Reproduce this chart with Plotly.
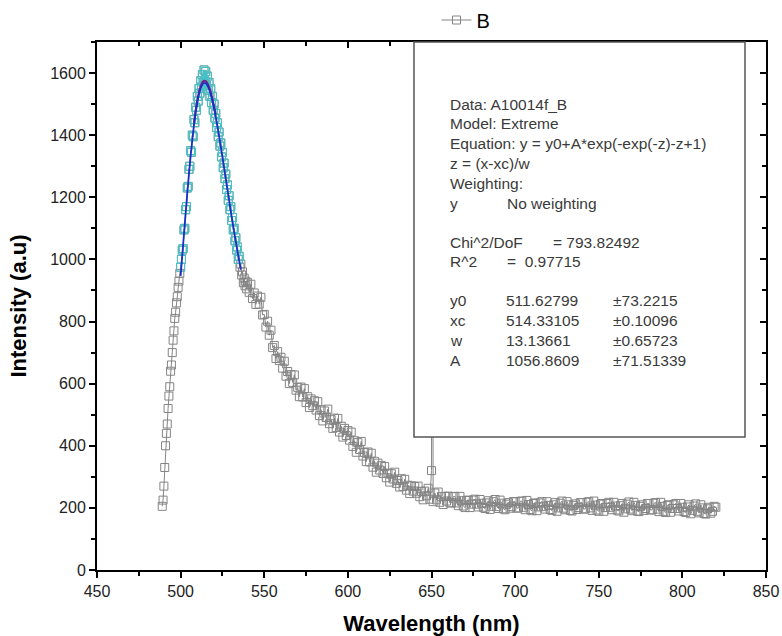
import numpy as np
import plotly.graph_objects as go

# ---------------- data ----------------
wl_rise = np.arange(489.0, 500.0, 0.5)
int_rise = [205, 225, 270, 330, 400, 440, 470, 520, 560, 590, 640, 660, 700, 740,
            770, 810, 830, 860, 880, 910, 930, 955]

wl_peak = np.arange(500.0, 535.5, 0.5)
int_peak = [975, 1000, 1030, 1035, 1095, 1100, 1160, 1170, 1230, 1235, 1290, 1300,
            1350, 1345, 1400, 1395, 1450, 1440, 1490, 1480, 1525, 1510, 1550, 1535,
            1575, 1555, 1595, 1570, 1610, 1575, 1605, 1560, 1590, 1545, 1570, 1525,
            1550, 1505, 1525, 1480, 1500, 1455, 1470, 1425, 1440, 1395, 1410, 1365,
            1375, 1330, 1345, 1295, 1310, 1260, 1275, 1225, 1240, 1190, 1205, 1160,
            1170, 1125, 1135, 1095, 1100, 1060, 1070, 1030, 1040, 1000, 1010]

wl_shoulder = np.arange(535.5, 540.0, 0.5)
int_shoulder = [975, 985, 950, 960, 925, 940, 915, 930, 905]

wl_decay = np.arange(540, 660, 1)
int_decay = [925, 894, 920, 874, 892, 855, 882, 856, 878, 821,
             823, 782, 801, 756, 772, 716, 723, 681, 703, 674,
             685, 650, 672, 624, 639, 600, 629, 604, 628, 579,
             588, 558, 589, 557, 584, 539, 558, 523, 551, 529,
             545, 515, 542, 497, 516, 480, 512, 491, 518, 471,
             484, 456, 489, 459, 488, 444, 463, 428, 456, 433,
             449, 418, 444, 398, 416, 379, 410, 388, 414, 367,
             378, 349, 380, 348, 376, 331, 350, 315, 344, 322,
             336, 311, 333, 297, 312, 283, 310, 293, 315, 279,
             288, 267, 294, 269, 292, 257, 273, 246, 271, 254,
             269, 247, 270, 236, 253, 226, 254, 239, 263, 228,
             320, 220, 248, 226, 251, 218, 236, 211, 237, 222]

wl_tail_even = np.arange(660, 822, 2)
int_tail_even = [238, 216, 237, 207, 223, 201, 225, 212, 228, 203,
                 215, 198, 223, 205, 227, 198, 215, 194, 217, 204,
                 220, 200, 222, 194, 211, 191, 216, 203, 220, 196,
                 208, 192, 217, 200, 222, 194, 210, 190, 213, 201,
                 217, 197, 220, 192, 209, 189, 214, 201, 218, 194,
                 206, 190, 214, 197, 219, 191, 208, 188, 210, 198,
                 214, 194, 217, 188, 205, 185, 210, 198, 214, 190,
                 202, 185, 210, 192, 213, 184, 200, 180, 202, 189, 202]

wl_tail_odd = np.arange(661, 821, 2)
int_tail_odd = [216, 236, 216, 237, 206, 224, 201, 225, 212, 227,
                202, 216, 195, 220, 204, 225, 197, 212, 199, 220,
                199, 221, 202, 224, 195, 214, 191, 216, 204, 220,
                195, 210, 189, 215, 199, 220, 192, 208, 195, 217,
                196, 218, 200, 222, 193, 212, 189, 214, 202, 218,
                193, 207, 186, 212, 196, 218, 190, 205, 192, 214,
                193, 215, 196, 218, 189, 208, 186, 210, 198, 214,
                188, 203, 181, 206, 189, 210, 182, 197, 183, 205]

spike_wl = [650.4]
spike_int = [1450]

fit_wl = np.arange(500, 537, 1)
fit_int = [947, 1014, 1081, 1148, 1214, 1276, 1334, 1386, 1433, 1473, 1506, 1532,
           1551, 1563, 1568, 1567, 1560, 1548, 1532, 1511, 1486, 1459, 1429, 1397,
           1364, 1330, 1295, 1260, 1225, 1190, 1155, 1121, 1088, 1057, 1026, 996, 967]

fit2_wl = np.arange(508, 522, 1)
fit2_int = [1440, 1480, 1513, 1539, 1558, 1570, 1575, 1574, 1567, 1555, 1539, 1518,
            1493, 1466]

x_ticks = [450, 500, 550, 600, 650, 700, 750, 800, 850]
y_ticks = [0, 200, 400, 600, 800, 1000, 1200, 1400, 1600]

fit_lines = [
    ("Data: A10014f_B", None),
    ("Model: Extreme", None),
    ("Equation: y = y0+A*exp(-exp(-z)-z+1)", None),
    ("z = (x-xc)/w", None),
    ("Weighting:", None),
    ("y", "No weighting"),
]
chi_line = ("Chi^2/DoF", "= 793.82492")
r2_line = ("R^2", "=  0.97715")
param_names = ["y0", "xc", "w", "A"]
param_values = ["511.62799", "514.33105", "13.13661", "1056.8609"]
param_errors = ["±73.2215", "±0.10096", "±0.65723", "±71.51339"]

# ---------------- assemble ----------------
for a, b in [(wl_rise, int_rise), (wl_peak, int_peak), (wl_shoulder, int_shoulder),
             (wl_decay, int_decay), (wl_tail_even, int_tail_even),
             (wl_tail_odd, int_tail_odd), (fit_wl, fit_int), (fit2_wl, fit2_int)]:
    assert len(a) == len(b), (len(a), len(b))

wl = np.concatenate([wl_rise, wl_peak, wl_shoulder, wl_decay, wl_tail_even,
                     wl_tail_odd, spike_wl])
inten = np.concatenate([int_rise, int_peak, int_shoulder, int_decay, int_tail_even,
                        int_tail_odd, spike_int])
order = np.argsort(wl, kind="stable")
wl = wl[order]
inten = inten[order]

GRAY = "#858585"
TEAL = "#45c3c8"
FONT = "Liberation Sans, Arial, sans-serif"

fig = go.Figure()
fig.add_trace(go.Scatter(
    x=wl, y=inten, mode="lines+markers", name="B",
    line=dict(color=GRAY, width=1),
    marker=dict(symbol="square-open", size=8, color=GRAY, line=dict(width=1, color=GRAY)),
))
fig.add_trace(go.Scatter(
    x=wl_peak, y=int_peak, mode="lines+markers", showlegend=False,
    line=dict(color=TEAL, width=1),
    marker=dict(symbol="square-open", size=8, color=TEAL, line=dict(width=1, color=TEAL)),
))
fig.add_trace(go.Scatter(
    x=fit2_wl, y=fit2_int, mode="lines", showlegend=False, line_shape="spline",
    line=dict(color="#7a1a8a", width=2),
))
fig.add_trace(go.Scatter(
    x=fit_wl, y=fit_int, mode="lines", showlegend=False, line_shape="spline",
    line=dict(color="#1a2ec8", width=1.8),
))
# mirrored frame axes (ticks pointing inward)
fig.add_trace(go.Scatter(x=[], y=[], xaxis="x2", yaxis="y2", showlegend=False))

L, R, T, B = 97, 16, 42, 66
W, H = 782, 636
pw, ph = W - L - R, H - T - B


def px(xp):
    return (xp - L) / pw


def py(yp):
    return (H - B - yp) / ph


axis_common = dict(showgrid=False, zeroline=False, showline=True, linecolor="black",
                   linewidth=2, ticks="outside", ticklen=6, tickwidth=2, tickcolor="black",
                   tickfont=dict(family=FONT, size=16, color="#222"))

fig.update_layout(
    width=W, height=H,
    margin=dict(l=L, r=R, t=T, b=B, autoexpand=False),
    plot_bgcolor="white", paper_bgcolor="white",
    xaxis=dict(range=[450, 850], tickvals=x_ticks, **axis_common,
               minor=dict(ticks="outside", ticklen=4, tickwidth=2, dtick=25, tick0=450, tickcolor="black"),
               title=dict(text="Wavelength (nm)", standoff=18,
                          font=dict(family=FONT, size=22, color="black", weight="bold"))),
    yaxis=dict(range=[0, 1700], tickvals=y_ticks, **axis_common,
               minor=dict(ticks="outside", ticklen=4, tickwidth=2, dtick=100, tick0=0, tickcolor="black"),
               title=dict(text="Intensity (a.u)", standoff=18,
                          font=dict(family=FONT, size=22, color="black", weight="bold"))),
    xaxis2=dict(range=[450, 850], overlaying="x", side="top", anchor="y",
                showgrid=False, zeroline=False, showline=True, linecolor="black", linewidth=2,
                ticks="inside", ticklen=6, tickwidth=2, tickcolor="black", tickvals=x_ticks,
                showticklabels=False,
                minor=dict(ticks="inside", ticklen=4, tickwidth=2, dtick=25, tick0=450, tickcolor="black")),
    yaxis2=dict(range=[0, 1700], overlaying="y", side="right", anchor="x",
                showgrid=False, zeroline=False, showline=True, linecolor="black", linewidth=2,
                ticks="inside", ticklen=6, tickwidth=2, tickcolor="black", tickvals=y_ticks,
                showticklabels=False,
                minor=dict(ticks="inside", ticklen=4, tickwidth=2, dtick=100, tick0=0, tickcolor="black")),
    legend=dict(orientation="h", x=px(466), xanchor="center", y=py(20), yanchor="middle",
                bgcolor="rgba(0,0,0,0)", font=dict(family=FONT, size=20, color="black")),
    showlegend=True,
)

# fit result box
fig.add_shape(type="rect", xref="paper", yref="paper",
              x0=px(414), x1=px(745), y0=py(437), y1=1.0,
              fillcolor="white", line=dict(color="#555", width=1.5), layer="above")

TXT = dict(family=FONT, size=15.5, color="#3a3a3a")


def ann(text, xp, yp):
    fig.add_annotation(text=text, xref="paper", yref="paper", x=px(xp), y=py(yp),
                       xanchor="left", yanchor="middle", showarrow=False, font=TXT)


row_y = [104, 123, 143, 163, 183, 203]
for (a, b), yy in zip(fit_lines, row_y):
    ann(a, 448, yy)
    if b:
        ann(b, 505, yy)
ann(chi_line[0], 448, 242)
ann(chi_line[1], 551, 242)
ann(r2_line[0], 448, 261)
ann(r2_line[1], 505, 261)
for i, (n, v, e) in enumerate(zip(param_names, param_values, param_errors)):
    yy = 300 + 20 * i
    ann(n, 448, yy)
    ann(v, 504, yy)
    ann(e, 611, yy)

fig.write_html("out.html")
